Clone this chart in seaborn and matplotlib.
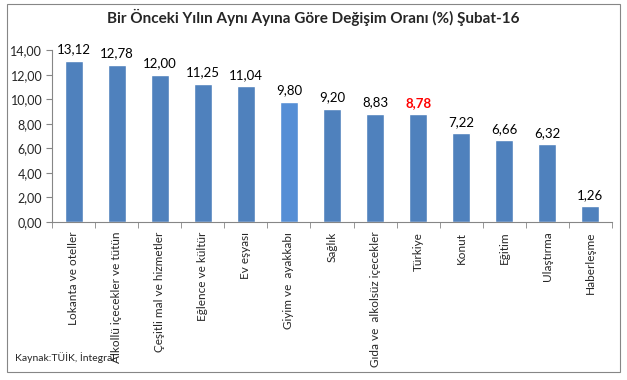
import matplotlib
matplotlib.use("Agg")
import matplotlib.pyplot as plt
import seaborn as sns
import numpy as np
import pandas as pd
from matplotlib.patches import Rectangle

# Veriler
kategoriler = ["Lokanta ve oteller", "Alkollü içecekler ve tütün", "Çeşitli mal ve hizmetler",
               "Eğlence ve kültür", "Ev eşyası", "Giyim ve  ayakkabı", "Sağlık",
               "Gıda ve  alkolsüz içecekler", "Türkiye", "Konut", "Eğitim", "Ulaştırma", "Haberleşme"]
degerler = [13.12, 12.78, 12.00, 11.25, 11.04, 9.80, 9.20, 8.83, 8.78, 7.22, 6.66, 6.32, 1.26]
y_ticks = [0, 2, 4, 6, 8, 10, 12, 14]

sns.set_style("white")
plt.rcParams['font.family'] = ['Lato', 'DejaVu Sans']

df = pd.DataFrame({"kategori": kategoriler, "deger": degerler})
renkler = ["#4F81BD"] * len(kategoriler)
renkler[5] = "#558ED5"

fig = plt.figure(figsize=(6.27, 3.80), dpi=100)
ax = fig.add_axes([0.083, 0.416, 0.893, 0.452])
sns.barplot(data=df, x="kategori", y="deger", hue="kategori", palette=renkler,
            legend=False, width=0.42, ax=ax, saturation=1)

ax.set_ylim(0, 14)
ax.set_xlim(-0.5, len(kategoriler) - 0.5)
ax.set_yticks(y_ticks)
ax.set_yticklabels([f"{v:.2f}".replace(".", ",") for v in y_ticks], fontsize=9)
ax.set_xlabel("")
ax.set_ylabel("")
ax.set_xticks(range(len(kategoriler)))
ax.set_xticklabels(kategoriler, rotation=90, fontsize=8.5, va="top")
ax.tick_params(axis="x", length=0, pad=7)
ax.set_xticks(np.arange(-0.5, len(kategoriler), 1), minor=True)
ax.tick_params(axis="x", which="minor", length=4, color="#868686", direction="out", bottom=True)
ax.tick_params(axis="y", length=4, color="#868686", direction="out", left=True, pad=3)

for s in ["top", "right"]:
    ax.spines[s].set_visible(False)
for s in ["left", "bottom"]:
    ax.spines[s].set_color("#868686")
    ax.spines[s].set_linewidth(0.8)

# Değer etiketleri
for i, v in enumerate(degerler):
    metin = f"{v:.2f}".replace(".", ",")
    if kategoriler[i] == "Türkiye":
        ax.text(i, v + 0.45, metin, ha="center", va="bottom", fontsize=9.5,
                color="#FF0000", fontweight="bold")
    else:
        ax.text(i, v + 0.45, metin, ha="center", va="bottom", fontsize=9.5, color="black")

fig.text(0.5, 0.953, "Bir Önceki Yılın Aynı Ayına Göre Değişim Oranı (%) Şubat-16",
         ha="center", va="center", fontsize=11, fontweight="bold")
fig.text(0.024, 0.058, "Kaynak:TÜİK, İntegral", ha="left", va="center", fontsize=7.5)

fig.patches.append(Rectangle((0.011, 0.021), 0.978, 0.968, transform=fig.transFigure,
                             fill=False, edgecolor="#868686", linewidth=0.8))

fig.savefig("out.png", dpi=100)
